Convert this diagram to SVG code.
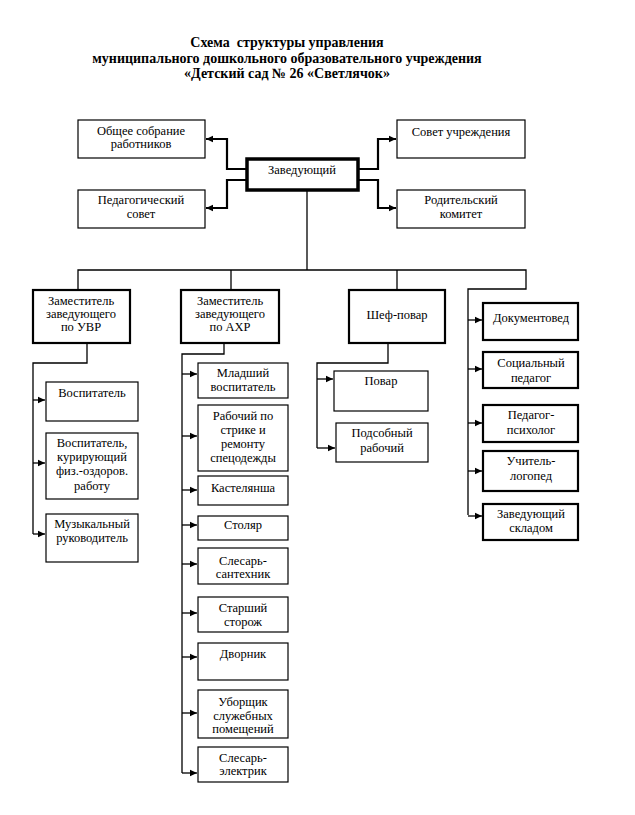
<svg xmlns="http://www.w3.org/2000/svg" width="635" height="815" viewBox="0 0 635 815">
<defs>
<style>
text{font-family:"Liberation Serif","Times New Roman",serif;font-size:12.5px;fill:#000;text-anchor:middle}
.title{font-size:14px;font-weight:bold}
.box{fill:#fff;stroke:#000;stroke-width:1.2}
.thick{fill:#fff;stroke:#000;stroke-width:2.2}
.head{fill:#fff;stroke:#000;stroke-width:3.5}
.ln{fill:none;stroke:#000;stroke-width:1.3}
.tl{fill:none;stroke:#000;stroke-width:2.2}
</style>
<marker id="ar" markerUnits="userSpaceOnUse" markerWidth="8" markerHeight="8" refX="7" refY="4" orient="auto">
<path d="M0,0.8 L7,4 L0,7.2 Z" fill="#000"/>
</marker>
</defs>
<rect width="635" height="815" fill="#fff"/>
<g id="title">
<text class="title" x="287" y="47" xml:space="preserve">Схема  структуры управления</text>
<text class="title" x="287" y="63">муниципального дошкольного образовательного учреждения</text>
<text class="title" x="287" y="78">«Детский сад № 26 «Светлячок»</text>
</g>
<g id="connectors">
<path class="tl" d="M247,169 H227 V139 H206" marker-end="url(#ar)"/>
<path class="tl" d="M247,180 H227 V208 H206" marker-end="url(#ar)"/>
<path class="tl" d="M358,169 H378 V139 H396" marker-end="url(#ar)"/>
<path class="tl" d="M358,180 H378 V208 H396" marker-end="url(#ar)"/>
<path class="ln" d="M307,190 V270"/>
<path class="ln" d="M78,290 V270 H526 V289 H468 V515"/>
<path class="ln" d="M231,270 V290"/>
<path class="ln" d="M397,270 V290"/>
<path class="ln" d="M87,343 V363 H33 V534"/>
<path class="ln" d="M224,343 V354 H182 V773"/>
<path class="ln" d="M388,343 V363 H317 V448"/>
<path class="ln" d="M33,400 H45" marker-end="url(#ar)"/>
<path class="ln" d="M33,463 H45" marker-end="url(#ar)"/>
<path class="ln" d="M33,534 H45" marker-end="url(#ar)"/>
<path class="ln" d="M182,374 H197" marker-end="url(#ar)"/>
<path class="ln" d="M182,436 H197" marker-end="url(#ar)"/>
<path class="ln" d="M182,490 H197" marker-end="url(#ar)"/>
<path class="ln" d="M182,525 H197" marker-end="url(#ar)"/>
<path class="ln" d="M182,564 H197" marker-end="url(#ar)"/>
<path class="ln" d="M182,613 H197" marker-end="url(#ar)"/>
<path class="ln" d="M182,657 H197" marker-end="url(#ar)"/>
<path class="ln" d="M182,713 H197" marker-end="url(#ar)"/>
<path class="ln" d="M182,773 H197" marker-end="url(#ar)"/>
<path class="ln" d="M317,379 H333" marker-end="url(#ar)"/>
<path class="ln" d="M317,448 H335" marker-end="url(#ar)"/>
<path class="ln" d="M468,320 H482" marker-end="url(#ar)"/>
<path class="ln" d="M468,369 H482" marker-end="url(#ar)"/>
<path class="ln" d="M468,423 H482" marker-end="url(#ar)"/>
<path class="ln" d="M468,471 H482" marker-end="url(#ar)"/>
<path class="ln" d="M468,516 H482" marker-end="url(#ar)"/>
</g>
<g id="n-obshchee"><rect class="box" x="78" y="120" width="127" height="38"/><text x="141" y="135">Общее собрание</text><text x="141" y="148">работников</text></g>
<g id="n-pedsovet"><rect class="box" x="78" y="190" width="127" height="38"/><text x="141" y="204">Педагогический</text><text x="141" y="218">совет</text></g>
<g id="n-zav"><rect class="head" x="247" y="159" width="111" height="31"/><text x="302" y="174">Заведующий</text></g>
<g id="n-sovet"><rect class="box" x="397" y="120" width="128" height="38"/><text x="461" y="136">Совет учреждения</text></g>
<g id="n-rodkom"><rect class="box" x="397" y="190" width="128" height="38"/><text x="461" y="204">Родительский</text><text x="461" y="218">комитет</text></g>
<g id="n-uvr"><rect class="thick" x="33" y="290" width="97" height="53"/><text x="81" y="305">Заместитель</text><text x="81" y="318">заведующего</text><text x="81" y="331">по УВР</text></g>
<g id="n-ahr"><rect class="thick" x="181" y="290" width="98" height="53"/><text x="230" y="305">Заместитель</text><text x="230" y="318">заведующего</text><text x="230" y="331">по АХР</text></g>
<g id="n-shef"><rect class="thick" x="349" y="290" width="96" height="53"/><text x="397" y="319">Шеф-повар</text></g>
<g id="n-vosp"><rect class="box" x="46" y="382" width="92" height="39"/><text x="92" y="397">Воспитатель</text></g>
<g id="n-vosp2"><rect class="box" x="46" y="433" width="92" height="66"/><text x="92" y="447">Воспитатель,</text><text x="92" y="461">курирующий</text><text x="92" y="475">физ.-оздоров.</text><text x="92" y="490">работу</text></g>
<g id="n-muz"><rect class="box" x="46" y="514" width="92" height="48"/><text x="92" y="528">Музыкальный</text><text x="92" y="542">руководитель</text></g>
<g id="n-mlvosp"><rect class="box" x="198" y="363" width="90" height="35"/><text x="243" y="377">Младший</text><text x="243" y="391">воспитатель</text></g>
<g id="n-rabochiy"><rect class="box" x="198" y="405" width="90" height="66"/><text x="243" y="420">Рабочий по</text><text x="243" y="434">стрике и</text><text x="243" y="448">ремонту</text><text x="243" y="462">спецодежды</text></g>
<g id="n-kastel"><rect class="box" x="198" y="476" width="90" height="29"/><text x="243" y="492">Кастелянша</text></g>
<g id="n-stolyar"><rect class="box" x="198" y="516" width="90" height="24"/><text x="243" y="529">Столяр</text></g>
<g id="n-santeh"><rect class="box" x="198" y="548" width="90" height="36"/><text x="243" y="565">Слесарь-</text><text x="243" y="578">сантехник</text></g>
<g id="n-storozh"><rect class="box" x="198" y="597" width="90" height="35"/><text x="243" y="612">Старший</text><text x="243" y="626">сторож</text></g>
<g id="n-dvornik"><rect class="box" x="198" y="643" width="90" height="37"/><text x="243" y="658">Дворник</text></g>
<g id="n-uborshchik"><rect class="box" x="198" y="690" width="90" height="48"/><text x="243" y="706">Уборщик</text><text x="243" y="720">служебных</text><text x="243" y="733">помещений</text></g>
<g id="n-elektrik"><rect class="box" x="198" y="747" width="90" height="35"/><text x="243" y="762">Слесарь-</text><text x="243" y="775">электрик</text></g>
<g id="n-povar"><rect class="box" x="334" y="371" width="94" height="40"/><text x="381" y="385">Повар</text></g>
<g id="n-podsob"><rect class="box" x="336" y="423" width="92" height="39"/><text x="382" y="437">Подсобный</text><text x="382" y="452">рабочий</text></g>
<g id="n-dokument"><rect class="thick" x="483" y="303" width="95" height="37"/><text x="531" y="322">Документовед</text></g>
<g id="n-socped"><rect class="thick" x="483" y="352" width="95" height="36"/><text x="531" y="367">Социальный</text><text x="531" y="382">педагог</text></g>
<g id="n-psiholog"><rect class="thick" x="483" y="405" width="95" height="37"/><text x="531" y="419">Педагог-</text><text x="531" y="434">психолог</text></g>
<g id="n-logoped"><rect class="thick" x="483" y="451" width="95" height="40"/><text x="531" y="465">Учитель-</text><text x="531" y="480">логопед</text></g>
<g id="n-sklad"><rect class="thick" x="483" y="504" width="95" height="36"/><text x="531" y="518">Заведующий</text><text x="531" y="532">складом</text></g>
</svg>
